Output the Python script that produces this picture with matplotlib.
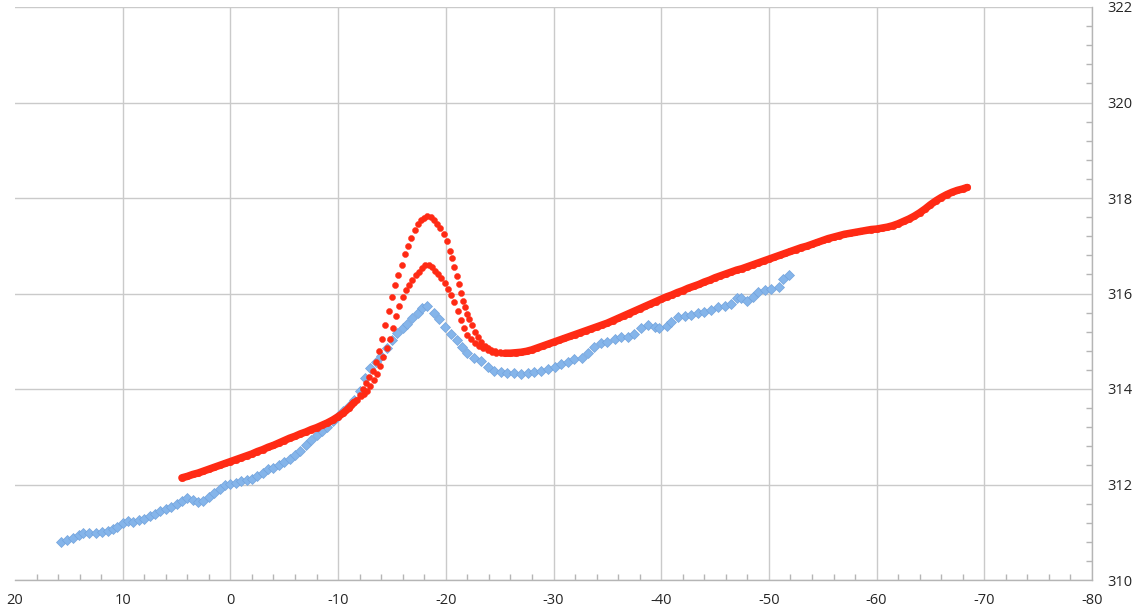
import numpy as np
import matplotlib
matplotlib.use("Agg")
import matplotlib.pyplot as plt
from matplotlib.ticker import MultipleLocator

plt.rcParams['axes.unicode_minus'] = False
plt.rcParams['font.family'] = ['Open Sans', 'DejaVu Sans']

# ---------------- data ----------------
blue_x = [15.75, 15.2, 14.6, 14.1, 13.65, 13.1, 12.5, 11.9, 11.4, 10.9, 10.5, 9.93,
          9.5, 9.0, 8.5, 8.0, 7.5, 7.0, 6.5, 6.0, 5.5, 5.0, 4.5, 4.0, 3.5, 3.0, 2.5,
          2.0, 1.5, 1.0, 0.5, 0.0, -0.5, -1.0, -1.5, -2.0, -2.5, -3.0, -3.5, -4.0,
          -4.5, -5.0, -5.5, -6.0, -6.5, -7.0, -7.5, -8.0, -8.5, -9.0, -9.5, -10.0,
          -10.5, -11.0, -11.5, -12.0, -12.5, -13.0, -13.5, -14.0, -14.5, -15.0,
          -15.5, -16.0, -16.4, -16.9, -17.4, -17.8, -18.3, -18.9, -19.4, -19.9,
          -20.5, -21.0, -21.5, -22.0, -22.6, -23.3, -23.9, -24.5, -25.1, -25.7,
          -26.3, -27.0, -27.6, -28.2, -28.8, -29.5, -30.1, -30.7, -31.3, -31.9,
          -32.6, -33.2, -33.8, -34.4, -35.0, -35.7, -36.3, -36.9, -37.5, -38.1,
          -38.8, -39.4, -39.8, -40.5, -40.9, -41.55, -42.2, -42.8, -43.4, -44.0,
          -44.65, -45.3, -45.9, -46.5, -47.0, -47.4, -48.0, -48.5, -49.0, -49.6,
          -50.2, -50.9, -51.3, -51.9]
blue_y = [310.80, 310.84, 310.89, 310.94, 310.99, 310.98, 310.99, 311.00, 311.03,
          311.06, 311.10, 311.20, 311.23, 311.22, 311.25, 311.28, 311.33, 311.39,
          311.44, 311.48, 311.52, 311.59, 311.66, 311.71, 311.67, 311.64, 311.66,
          311.74, 311.83, 311.90, 311.98, 312.02, 312.04, 312.07, 312.09, 312.11,
          312.17, 312.25, 312.32, 312.35, 312.40, 312.47, 312.54, 312.62, 312.71,
          312.83, 312.93, 313.03, 313.12, 313.21, 313.32, 313.43, 313.53, 313.64,
          313.77, 313.95, 314.24, 314.43, 314.57, 314.69, 314.86, 315.03, 315.17,
          315.28, 315.37, 315.48, 315.59, 315.69, 315.74, 315.60, 315.46, 315.30,
          315.16, 315.02, 314.89, 314.75, 314.64, 314.59, 314.47, 314.38, 314.36,
          314.34, 314.34, 314.31, 314.34, 314.36, 314.38, 314.41, 314.47, 314.52,
          314.57, 314.62, 314.64, 314.75, 314.89, 314.96, 314.99, 315.04, 315.09,
          315.09, 315.15, 315.27, 315.33, 315.30, 315.27, 315.31, 315.41, 315.50,
          315.53, 315.55, 315.59, 315.62, 315.65, 315.71, 315.74, 315.79, 315.90,
          315.90, 315.85, 315.93, 316.04, 316.07, 316.09, 316.14, 316.30, 316.39]

# red: common left part
red_left_x = [4.5, 4.0, 3.5, 3.0, 2.5, 2.0, 1.5, 1.0, 0.5, 0.0, -0.5, -1.0, -1.5,
              -2.0, -2.5, -3.0, -3.5, -4.0, -4.5, -5.0, -5.5, -6.0, -6.5, -7.0,
              -7.5, -8.0, -8.5, -9.0, -9.5, -10.0, -10.5, -11.0, -11.5]
red_left_y = [312.14, 312.17, 312.21, 312.24, 312.28, 312.32, 312.36, 312.40,
              312.44, 312.48, 312.52, 312.56, 312.60, 312.64, 312.69, 312.73,
              312.78, 312.82, 312.87, 312.92, 312.97, 313.01, 313.06, 313.10,
              313.15, 313.19, 313.24, 313.29, 313.35, 313.42, 313.50, 313.60, 313.72]

# red: upper peak run
red_a_x = [-11.7, -12.0, -12.3, -12.6, -12.9, -13.2, -13.5, -13.8, -14.1, -14.4,
           -14.7, -15.0, -15.3, -15.6, -15.9, -16.2, -16.5, -16.8, -17.1, -17.4,
           -17.7, -18.0, -18.3, -18.6, -18.9, -19.2, -19.5, -19.8, -20.1, -20.4,
           -20.6, -20.8, -21.0, -21.2, -21.4, -21.6, -21.8, -22.0, -22.2, -22.4,
           -22.7, -23.0, -23.3, -23.6, -23.9, -24.2, -24.6, -25.0]
red_a_y = [313.78, 313.88, 314.00, 314.12, 314.25, 314.38, 314.57, 314.80, 315.05,
           315.34, 315.64, 315.93, 316.18, 316.38, 316.60, 316.82, 317.00, 317.17,
           317.32, 317.45, 317.53, 317.58, 317.62, 317.60, 317.54, 317.46, 317.37,
           317.24, 317.09, 316.90, 316.75, 316.56, 316.37, 316.19, 316.01, 315.85,
           315.71, 315.58, 315.46, 315.34, 315.20, 315.08, 314.98, 314.91, 314.86,
           314.82, 314.79, 314.77]

# red: lower peak run
red_b_x = [-11.8, -12.1, -12.4, -12.7, -13.0, -13.3, -13.6, -13.9, -14.2, -14.5,
           -14.8, -15.1, -15.4, -15.7, -16.0, -16.3, -16.6, -16.9, -17.2, -17.5,
           -17.8, -18.1, -18.4, -18.7, -19.0, -19.3, -19.6, -19.9, -20.2, -20.5,
           -20.8, -21.1, -21.4, -21.7, -22.0, -22.3, -22.7, -23.1, -23.5, -23.9,
           -24.3, -24.7, -25.1]
red_b_y = [313.78, 313.85, 313.90, 313.96, 314.06, 314.18, 314.31, 314.48, 314.67,
           314.85, 315.05, 315.28, 315.52, 315.74, 315.93, 316.07, 316.18, 316.28,
           316.38, 316.46, 316.53, 316.59, 316.60, 316.55, 316.48, 316.41, 316.33,
           316.23, 316.10, 315.97, 315.82, 315.64, 315.44, 315.27, 315.14, 315.05,
           314.97, 314.90, 314.85, 314.81, 314.78, 314.76, 314.75]

# red: common right part
red_right_x = [-25.5, -26.0, -26.5, -27.0, -27.5, -28.0, -28.5, -29.0, -29.5, -30.0,
               -30.5, -31.0, -31.5, -32.0, -32.5, -33.0, -33.5, -34.0, -34.5, -35.0,
               -35.5, -36.0, -36.5, -37.0, -37.5, -38.0, -38.5, -39.0, -39.5, -40.0,
               -40.5, -41.0, -41.5, -42.0, -42.5, -43.0, -43.5, -44.0, -44.5, -45.0,
               -45.5, -46.0, -46.5, -47.0, -47.5, -48.0, -48.5, -49.0, -49.5, -50.0,
               -50.5, -51.0, -51.5, -52.0, -52.5, -53.0, -53.5, -54.0, -54.5, -55.0,
               -55.5, -56.0, -56.5, -57.0, -57.5, -58.0, -58.5, -59.0, -59.5, -60.0,
               -60.5, -61.0, -61.5, -62.0, -62.5, -63.0, -63.5, -64.0, -64.5, -65.0,
               -65.5, -66.0, -66.5, -67.0, -67.5, -68.0, -68.4]
red_right_y = [314.75, 314.75, 314.76, 314.77, 314.79, 314.82, 314.86, 314.90,
               314.94, 314.98, 315.02, 315.06, 315.10, 315.14, 315.18, 315.22,
               315.26, 315.30, 315.34, 315.38, 315.43, 315.48, 315.53, 315.58,
               315.63, 315.68, 315.73, 315.78, 315.83, 315.88, 315.93, 315.97,
               316.02, 316.06, 316.11, 316.15, 316.19, 316.24, 316.28, 316.33,
               316.37, 316.41, 316.45, 316.49, 316.52, 316.56, 316.60, 316.64,
               316.68, 316.72, 316.76, 316.80, 316.84, 316.88, 316.92, 316.96,
               316.99, 317.03, 317.07, 317.11, 317.15, 317.18, 317.21, 317.24,
               317.26, 317.28, 317.30, 317.32, 317.34, 317.35, 317.37, 317.39,
               317.42, 317.46, 317.51, 317.56, 317.62, 317.69, 317.77, 317.86,
               317.94, 318.01, 318.07, 318.12, 318.16, 318.19, 318.22]

x_ticks = [20, 10, 0, -10, -20, -30, -40, -50, -60, -70, -80]
y_ticks = [310, 312, 314, 316, 318, 320, 322]

# ---------------- figure ----------------
fig = plt.figure(figsize=(11.4, 6.13), dpi=100)
ax = fig.add_axes([15 / 1140, 1 - 580 / 613, (1092 - 15) / 1140, (580 - 7) / 613])

BLUE = '#85B5EA'
BLUE_EDGE = '#73A4DD'
RED = '#FF2A14'

ax.plot(blue_x, blue_y, linestyle='none', marker='D', markersize=5.2,
        markerfacecolor=BLUE, markeredgecolor=BLUE_EDGE, markeredgewidth=0.5, zorder=3)

# dense overlapping points of both red runs form a thick band where they coincide
for rx, ry in [(red_left_x, red_left_y), (red_right_x, red_right_y)]:
    ax.plot(rx, ry, linestyle='-', linewidth=5.4, color=RED,
            solid_capstyle='round', solid_joinstyle='round', zorder=4)
    ax.plot(rx, ry, linestyle='none', marker='o', markersize=4.8,
            markerfacecolor=RED, markeredgecolor=RED, markeredgewidth=0.3, zorder=4)

for rx, ry in [(red_a_x, red_a_y), (red_b_x, red_b_y)]:
    ax.plot(rx, ry, linestyle='none', marker='o', markersize=4.4,
            markerfacecolor=RED, markeredgecolor=RED, markeredgewidth=0.3, zorder=4)

ax.set_xlim(20, -80)
ax.set_ylim(310, 322)
ax.set_xticks(x_ticks)
ax.set_xticklabels([str(v) for v in x_ticks])
ax.set_yticks(y_ticks)
ax.set_yticklabels([str(v) for v in y_ticks])
ax.xaxis.set_minor_locator(MultipleLocator(2))
ax.yaxis.set_minor_locator(MultipleLocator(0.4))

ax.yaxis.tick_right()
ax.yaxis.set_label_position('right')

ax.grid(True, which='major', color='#CACACA', linewidth=1.0, zorder=0)
ax.set_axisbelow(True)
ax.get_xgridlines()[0].set_visible(False)

for side in ['left', 'top']:
    ax.spines[side].set_visible(False)
for side in ['right', 'bottom']:
    ax.spines[side].set_color('#B5B5B5')
    ax.spines[side].set_linewidth(1.0)

ax.tick_params(axis='x', which='both', direction='in', colors='#B5B5B5',
               labelcolor='#262626', labelsize=10.5, pad=9)
ax.tick_params(axis='x', which='major', length=0)
ax.tick_params(axis='x', which='minor', length=4, width=1)
ax.tick_params(axis='y', which='both', direction='in', colors='#B5B5B5',
               labelcolor='#262626', labelsize=10.5, pad=11, right=True, left=False)
ax.tick_params(axis='y', which='major', length=0)
ax.tick_params(axis='y', which='minor', length=4, width=1)

fig.savefig('out.png', dpi=100)
